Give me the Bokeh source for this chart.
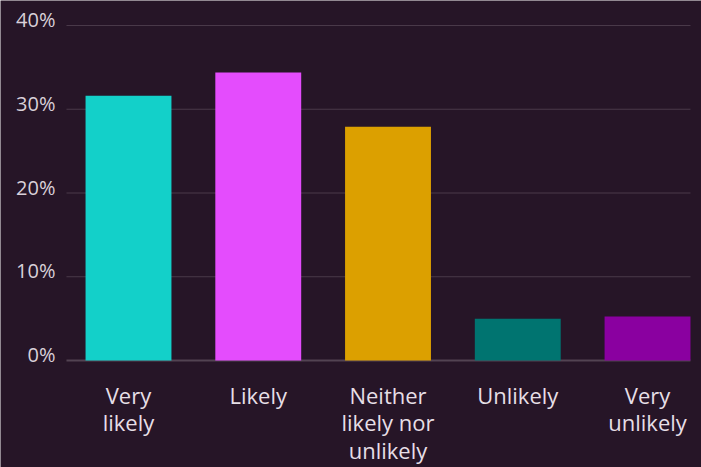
from bokeh.plotting import figure
from bokeh.models import Range1d
from bokeh.core.properties import value
from bokeh.embed import file_html
from bokeh.resources import INLINE

categories = ["Very\nlikely", "Likely", "Neither\nlikely nor\nunlikely", "Unlikely", "Very\nunlikely"]
values = [31.6, 34.4, 27.9, 5.0, 5.25]
colors = ["#13d0c9", "#e44cfd", "#dca000", "#007470", "#8a00a0"]
y_ticks = [0, 10, 20, 30, 40]
y_tick_labels = ["0%", "10%", "20%", "30%", "40%"]

BG = "#261527"
positions = list(range(len(categories)))
BAR_W = 0.662
X0, X1 = -0.478, 4.331   # plotting area extent in data units

p = figure(width=701, height=467, output_backend="svg", toolbar_location=None,
           x_range=Range1d(-0.9865, 4.416), y_range=Range1d(-12.776, 42.985),
           min_border=0)
p.background_fill_color = BG
p.border_fill_color = BG
p.outline_line_color = None
p.axis.visible = False
p.grid.visible = False

# gridlines
grid_colors = ["#524352" if t == 0 else "#4a3a4a" for t in y_ticks]
grid_widths = [2 if t == 0 else 1 for t in y_ticks]
p.segment(x0=[X0] * len(y_ticks), x1=[X1] * len(y_ticks), y0=y_ticks, y1=y_ticks,
          line_color=grid_colors, line_width=grid_widths)

# bars
p.vbar(x=positions, top=values, width=BAR_W, bottom=0, color=colors, line_color=None)

# y tick labels
p.text(x=[X0] * len(y_ticks), y=y_ticks, text=y_tick_labels,
       x_offset=-11, y_offset=-6, text_align="right", text_baseline="middle",
       text_font=value("Open Sans"), text_font_size="20px", text_color="#d9d0d9")

# x category labels
p.text(x=positions, y=[0] * len(positions), text=categories,
       y_offset=19, text_align="center", text_baseline="top",
       text_font=value("Open Sans"), text_font_size="22px", text_color="#e6dfe6",
       text_line_height=0.93)

open("out.html", "w").write(file_html(p, INLINE))
